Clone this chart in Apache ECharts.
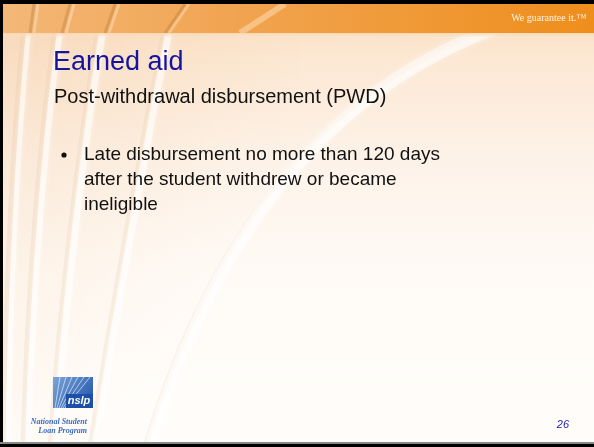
<!DOCTYPE html>
<html><head><meta charset="utf-8">
<script src="https://cdn.jsdelivr.net/npm/echarts@6/dist/echarts.min.js"></script>
<style>html,body{margin:0;padding:0;background:#fff}#c{width:594px;height:447px}</style>
</head><body><div id="c"></div>
<script>
const titleText = ["Earned aid"];
const subtitleText = ["Post-withdrawal disbursement (PWD)"];
const bulletLines = ["Late disbursement no more than 120 days", "after the student withdrew or became", "ineligible"];
const taglineText = ["We guarantee it.\u2122"];
const pageNumber = ["26"];
const logoLines = ["National Student", "Loan Program"];

const chart = echarts.init(document.getElementById('c'), null, {renderer: 'canvas'});
const g = [];
// background
g.push({type:'rect', shape:{x:0,y:0,width:594,height:447}, style:{fill:new echarts.graphic.LinearGradient(0,0,0,1,[
  {offset:0,color:'#fbdcbc'},{offset:0.12,color:'#fce7d2'},{offset:0.35,color:'#fdf2e8'},{offset:0.6,color:'#fffaf5'},{offset:1,color:'#fffdfb'}])}, z:0});
// left warm area
g.push({type:'rect', shape:{x:0,y:30,width:300,height:417}, style:{fill:new echarts.graphic.LinearGradient(0,0,1,0.5,[
  {offset:0,color:'rgba(240,195,150,0.30)'},{offset:0.6,color:'rgba(245,210,170,0.10)'},{offset:1,color:'rgba(255,255,255,0)'}])}, z:1});
// fan curves (light streaks)
const curves = [
  [8,447, 10,300, 18,120, 32,0, 5],
  [28,447, 32,300, 45,120, 65,0, 6],
  [55,447, 65,300, 85,130, 108,0, 7],
  [95,447, 115,320, 145,150, 175,0, 7],
  [150,447, 200,280, 300,90, 520,20, 12]
];
curves.forEach((c,i)=>{
  g.push({type:'bezierCurve', shape:{x1:c[0]-5,y1:c[1],cpx1:c[2]-5,cpy1:c[3],cpx2:c[4]-5,cpy2:c[5],x2:c[6]-5,y2:c[7]},
    style:{stroke:'rgba(220,175,130,0.18)', lineWidth:5, fill:null}, z:2});
  g.push({type:'bezierCurve', shape:{x1:c[0],y1:c[1],cpx1:c[2],cpy1:c[3],cpx2:c[4],cpy2:c[5],x2:c[6],y2:c[7]},
    style:{stroke:'rgba(255,255,255,0.55)', lineWidth:c[8], fill:null, shadowBlur:6, shadowColor:'rgba(255,255,255,0.8)'}, z:2});
});
// header band
g.push({type:'rect', shape:{x:0,y:0,width:594,height:33}, style:{fill:new echarts.graphic.LinearGradient(0,0,1,0,[
  {offset:0,color:'#f3b878'},{offset:0.4,color:'#f1a450'},{offset:1,color:'#ee8e1c'}])}, z:3});
// header streaks
[[30,33,34,4],[62,33,70,4],[105,33,115,4],[165,33,185,4]].forEach(s=>{
  g.push({type:'line', shape:{x1:s[0],y1:s[1],x2:s[2],y2:s[3]}, style:{stroke:'rgba(170,110,50,0.30)', lineWidth:3}, z:4});
  g.push({type:'line', shape:{x1:s[0]+4,y1:s[1],x2:s[2]+4,y2:s[3]}, style:{stroke:'rgba(255,235,210,0.40)', lineWidth:3}, z:4});
});
g.push({type:'line', shape:{x1:240,y1:33,x2:285,y2:4}, style:{stroke:'rgba(255,225,190,0.5)', lineWidth:6}, z:4});
g.push({type:'rect', shape:{x:0,y:33,width:594,height:5}, style:{fill:new echarts.graphic.LinearGradient(0,0,0,1,[
  {offset:0,color:'rgba(250,215,175,0.9)'},{offset:1,color:'rgba(252,228,205,0)'}])}, z:4});
// tagline
g.push({type:'text', x:586, y:18, style:{text:taglineText[0], fill:'#fff4e6', font:'10px "Liberation Serif", serif', align:'right', verticalAlign:'middle'}, z:10});
// title
g.push({type:'text', x:53, y:63, style:{text:titleText[0], fill:'#1414a0', font:'27px "Liberation Sans", Arial, sans-serif', verticalAlign:'middle'}, z:10});
// subtitle
g.push({type:'text', x:54, y:97, style:{text:subtitleText[0], fill:'#111', font:'20px "Liberation Sans", Arial, sans-serif', verticalAlign:'middle'}, z:10});
// bullet
g.push({type:'circle', shape:{cx:64, cy:155, r:2.6}, style:{fill:'#111'}, z:10});
bulletLines.forEach((t,i)=>{
  g.push({type:'text', x:84, y:155+i*25, style:{text:t, fill:'#111', font:'19px "Liberation Sans", Arial, sans-serif', verticalAlign:'middle'}, z:10});
});
// page number
g.push({type:'text', x:569, y:425, style:{text:pageNumber[0], fill:'#2323b0', font:'italic 11px "Liberation Sans", Arial, sans-serif', align:'right', verticalAlign:'middle'}, z:10});
// logo
g.push({type:'rect', shape:{x:53,y:377,width:40,height:31}, style:{fill:new echarts.graphic.LinearGradient(0,0,1,1,[
  {offset:0,color:'#7aa6da'},{offset:1,color:'#1d4fa6'}])}, z:10});
for(let k=0;k<6;k++){
  g.push({type:'line', shape:{x1:55+k*2,y1:408,x2:60+k*6,y2:377}, style:{stroke:'rgba(255,255,255,0.6)', lineWidth:1}, z:11});
}
g.push({type:'rect', shape:{x:66,y:394,width:27,height:14}, style:{fill:'#1b4fa8'}, z:11});
g.push({type:'text', x:79, y:401, style:{text:'nslp', fill:'#fff', font:'italic bold 11px "Liberation Sans", Arial, sans-serif', align:'center', verticalAlign:'middle'}, z:12});
g.push({type:'text', x:87, y:422, style:{text:logoLines[0], fill:'#3b6cc0', font:'italic bold 8px "Liberation Serif", serif', align:'right', verticalAlign:'middle'}, z:12});
g.push({type:'text', x:87, y:431, style:{text:logoLines[1], fill:'#3b6cc0', font:'italic bold 8px "Liberation Serif", serif', align:'right', verticalAlign:'middle'}, z:12});
// frame
g.push({type:'rect', shape:{x:0,y:0,width:594,height:4}, style:{fill:'#000'}, z:20});
g.push({type:'rect', shape:{x:0,y:0,width:3,height:447}, style:{fill:'#000'}, z:20});
g.push({type:'rect', shape:{x:0,y:444,width:594,height:3}, style:{fill:'#000'}, z:20});
g.push({type:'rect', shape:{x:0,y:442,width:594,height:2}, style:{fill:'#888'}, z:20});

chart.setOption({animation:false, graphic:{elements:g}});
</script></body></html>
